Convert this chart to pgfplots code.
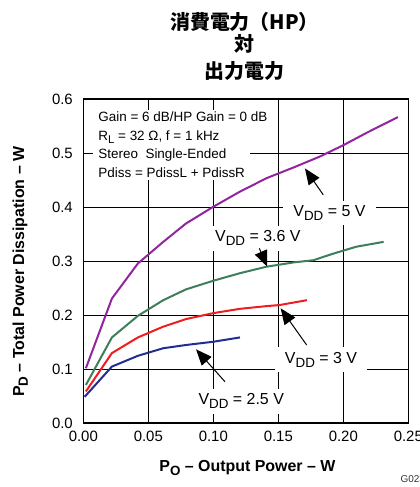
\documentclass[border=0pt]{standalone}
\usepackage{graphicx}
\usepackage{pgfplots}
\pgfplotsset{compat=1.18}
\usepackage{fontspec}
\setmainfont{Liberation Sans}
\newfontfamily\cjk{Noto Sans CJK JP}
\usetikzlibrary{arrows.meta}
\definecolor{purpleC}{RGB}{146,36,160}
\definecolor{greenC}{RGB}{62,126,90}
\definecolor{redC}{RGB}{240,28,32}
\definecolor{blueC}{RGB}{36,44,146}
\newcommand\sub[1]{\raisebox{-0.24em}{\scalebox{0.84}{#1}}}
\begin{document}
\begin{tikzpicture}[x=1bp,y=1bp]
\useasboundingbox (0,0) rectangle (419,487);
\node[font=\cjk\bfseries\fontsize{20}{24}\selectfont] at (244.5,465.3) {消費電力（HP）};
\node[font=\cjk\bfseries\fontsize{20}{24}\selectfont] at (244.5,443) {対};
\node[font=\cjk\bfseries\fontsize{20}{24}\selectfont] at (244.5,416) {出力電力};
\node[anchor=base west, font=\fontsize{10}{12}\selectfont, text=black!80] at (397,4) {G023};
\begin{axis}[
  at={(83.3bp,63.7bp)}, anchor=south west,
  scale only axis, width=325bp, height=324bp,
  xmin=0, xmax=0.25, ymin=0, ymax=0.6,
  xtick={0,0.05,0.1,0.15,0.2,0.25},
  ytick={0,0.1,0.2,0.3,0.4,0.5,0.6},
  grid=major, grid style={black, line width=0.8bp},
  axis line style={black, line width=1.6bp},
  major tick length=0pt,
  /pgf/number format/assume math mode=true,
  ticklabel style={font=\fontsize{15}{18}\selectfont},
  xticklabel style={/pgf/number format/fixed, /pgf/number format/fixed zerofill, /pgf/number format/precision=2, yshift=-4bp},
  yticklabel style={/pgf/number format/fixed, /pgf/number format/fixed zerofill, /pgf/number format/precision=1, xshift=-7bp},
  xlabel={P\sub{O} – Output Power – W},
  ylabel={P\sub{D} – Total Power Dissipation – W},
  label style={font=\bfseries\fontsize{16}{19}\selectfont},
  xlabel style={at={(axis description cs:0.505,-0.139)}, anchor=center},
  ylabel style={at={(axis description cs:-0.194,0.468)}, anchor=center},
  every axis plot/.append style={line width=2bp, line join=round},
  clip=false,
]
% white box behind the info text
\fill[white] (axis cs:0.0075,0.45) rectangle (axis cs:0.128,0.581);

\addplot[purpleC] coordinates {
(0.002,0.102) (0.022,0.231) (0.042,0.296) (0.0615,0.336) (0.079,0.370)
(0.100,0.401) (0.1205,0.429) (0.141,0.454) (0.162,0.474) (0.182,0.494)
(0.200,0.515) (0.218,0.538) (0.242,0.567)};
\addplot[greenC] coordinates {
(0.002,0.071) (0.022,0.159) (0.042,0.199) (0.0615,0.228) (0.079,0.248)
(0.100,0.264) (0.1205,0.278) (0.141,0.290) (0.162,0.298) (0.177,0.302)
(0.192,0.314) (0.210,0.327) (0.231,0.336)};
\addplot[redC] coordinates {
(0.002,0.059) (0.022,0.130) (0.042,0.159) (0.0615,0.179) (0.079,0.193)
(0.100,0.204) (0.1205,0.212) (0.141,0.217) (0.151,0.219) (0.172,0.228)};
\addplot[blueC] coordinates {
(0.001,0.049) (0.022,0.105) (0.042,0.125) (0.0615,0.139) (0.079,0.145)
(0.100,0.151) (0.1205,0.159)};

% info text
\begin{scope}[every node/.style={anchor=base west, inner sep=0pt, font=\fontsize{13.5}{16}\selectfont}]
\node at (axis cs:0.0115,0.5586) {Gain = 6 dB/HP Gain = 0 dB};
\node at (axis cs:0.0115,0.5240) {R\sub{L} = 32 Ω, f = 1 kHz};
\node at (axis cs:0.0115,0.4895) {Stereo\ \ Single-Ended};
\node at (axis cs:0.0115,0.4550) {Pdiss = PdissL + PdissR};
\end{scope}

% curve labels
\begin{scope}[every node/.style={anchor=base west, fill=white, inner xsep=10bp, inner ysep=5bp, font=\fontsize{16}{19}\selectfont}]
\node at (axis cs:0.1538,0.383) {V\sub{DD} = 5 V};
\node at (axis cs:0.0936,0.3363) {V\sub{DD} = 3.6 V};
\node at (axis cs:0.1473,0.111) {V\sub{DD} = 3 V};
\node at (axis cs:0.0808,0.034) {V\sub{DD} = 2.5 V};
\end{scope}

% arrows
\begin{scope}[line width=1bp, -{Triangle[length=16bp, width=13bp]}]
\draw (axis cs:0.1846,0.423) -- (axis cs:0.1705,0.472);
\draw (axis cs:0.1354,0.324) -- (axis cs:0.1415,0.290);
\draw (axis cs:0.1718,0.145) -- (axis cs:0.1518,0.213);
\draw (axis cs:0.109,0.077) -- (axis cs:0.0867,0.137);
\end{scope}
\end{axis}
\end{tikzpicture}
\end{document}
